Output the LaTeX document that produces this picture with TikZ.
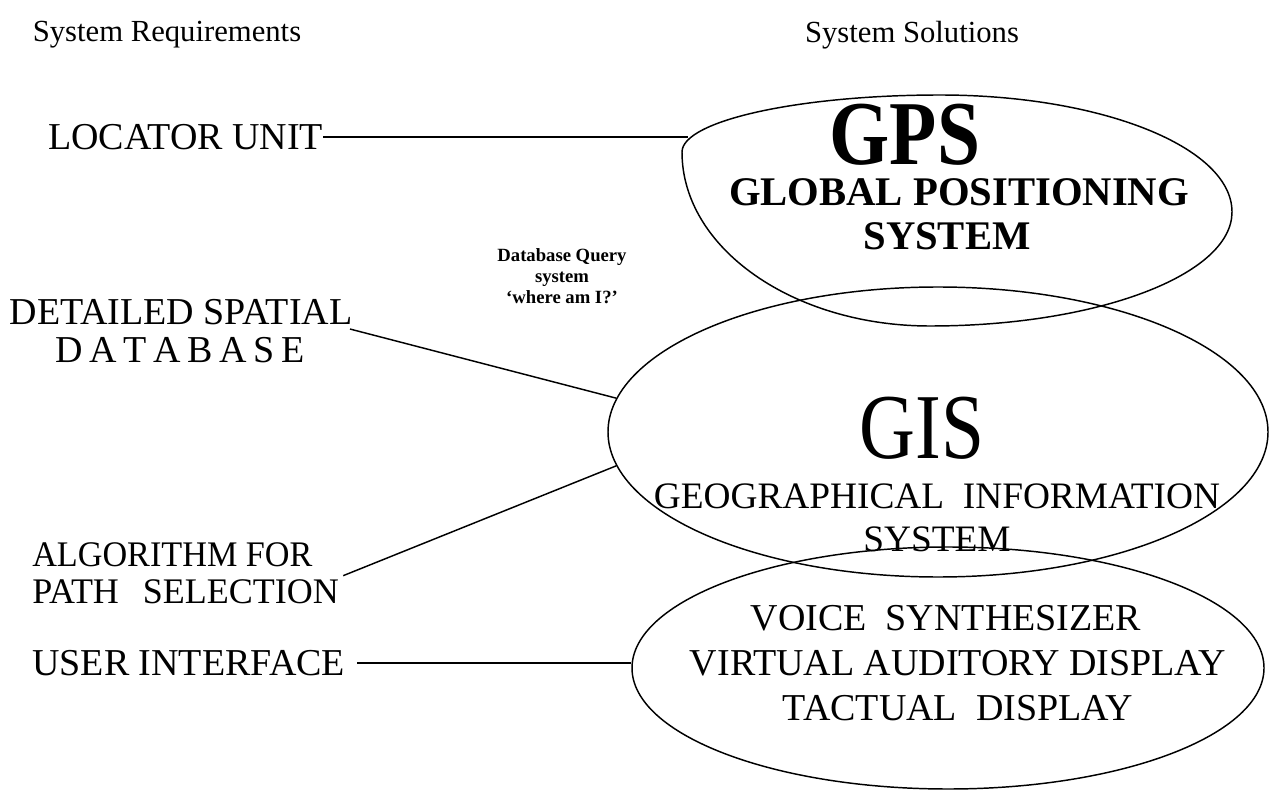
\documentclass[tikz,border=0pt]{standalone}
\usepackage{fontspec}
\setmainfont{Liberation Serif}
\usetikzlibrary{shapes.geometric}
\begin{document}
\begin{tikzpicture}[x=0.75pt,y=-0.75pt,
  lbl/.style={font=\fontsize{28.5}{33}\selectfont, inner sep=0pt, align=center},
  hdr/.style={font=\fontsize{23}{27}\selectfont, inner sep=0pt},
  inside/.style={font=\fontsize{28.5}{33.5}\selectfont, inner sep=0pt, align=center},
  bigname/.style={inner sep=0pt, anchor=base, text depth=0pt},
  capline/.style={inner sep=0pt, anchor=base, text height=0.7em, text depth=0pt},
  oval/.style={draw, line width=1.1pt, ellipse, inner sep=0pt},
  outline/.style={line width=1.1pt},
  conn/.style={line width=1.1pt}]
\useasboundingbox (0,0) rectangle (1281,791);
% headers
\node[hdr] (req) at (167,35) {System Requirements};
\node[hdr] (sol) at (912,35) {System Solutions};
% GPS outline (hand-drawn, slightly irregular ellipse)
\coordinate (gpsL) at (682,152);
\coordinate (gpsT) at (940,95);
\coordinate (gpsR) at (1232,212);
\coordinate (gpsB) at (930,326);
\draw[outline] (gpsL) .. controls (682,121) and (798,95) .. (gpsT)
  .. controls (1101,95) and (1232,147) .. (gpsR)
  .. controls (1232,275) and (1097,326) .. (gpsB)
  .. controls (793,326) and (682,248) .. (gpsL) -- cycle;
\coordinate (gpsedge) at (688,137);
% ellipses
\node[oval, minimum width={660*0.75pt}, minimum height={290*0.75pt}] (gis) at (938,432) {};
\node[oval, minimum width={632*0.75pt}, minimum height={242*0.75pt}] (vs) at (948,668) {};
% ellipse texts
\node[bigname, font=\bfseries\fontsize{58}{58}\selectfont] (gpst) at (905,165) {\scalebox{1}[1.18]{GPS}};
\node[capline, font=\bfseries\fontsize{30.5}{33}\selectfont] (gpss1) at (959,206) {GLOBAL POSITIONING};
\node[capline, font=\bfseries\fontsize{30.5}{33}\selectfont] (gpss2) at (947,250) {SYSTEM};
\node[bigname, font=\fontsize{58}{58}\selectfont] (gist) at (922,458) {\scalebox{1}[1.2]{GIS}};
\node[inside, font=\fontsize{28}{32.3}\selectfont] (giss) at (937,518) {GEOGRAPHICAL\ \ INFORMATION\\SYSTEM};
\node[inside] (vst) at (958,663) {VOICE\ \ SYNTHESIZER\hspace*{18pt}\\VIRTUAL AUDITORY DISPLAY\\TACTUAL\ \ DISPLAY};
% database query note
\node[font=\bfseries\fontsize{14}{16}\selectfont, inner sep=0pt, align=center] (dbq) at (562,276) {Database Query\\system\\`where am I?'};
% left labels
\node[lbl, anchor=west] (loc) at (48,137) {LOCATOR UNIT};
\node[lbl] (dsd1) at (181,312) {DETAILED SPATIAL};
\node[lbl] (dsd2) at (180,350) {D\hspace{5pt}A\hspace{5pt}T\hspace{5pt}A\hspace{5pt}B\hspace{5pt}A\hspace{5pt}S\hspace{5pt}E};
\node[lbl, font=\fontsize{27}{28}\selectfont, align=left, anchor=west] (alg) at (32,573) {\scalebox{0.95}[1]{ALGORITHM FOR}\\PATH\ \ \,SELECTION};
\node[lbl, anchor=west] (ui) at (32,663) {USER INTERFACE};
% connectors
\draw[conn] ([shift={(-2pt,-3pt)}]dsd1.south east) -- (gis.174);
\draw[conn] ([shift={(3pt,-2pt)}]alg.east) -- (gis.186);
\draw[conn] (loc.east) -- (gpsedge);
\draw[conn] ([xshift=9pt]ui.east) -- (ui.east -| vs.west);
\end{tikzpicture}
\end{document}
